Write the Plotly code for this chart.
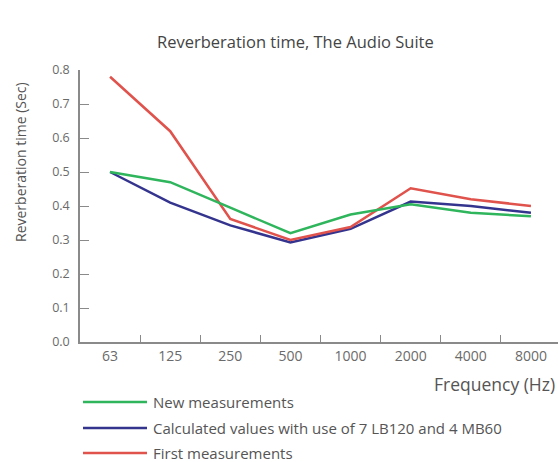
import plotly.graph_objects as go

freqs = ["63", "125", "250", "500", "1000", "2000", "4000", "8000"]
new_meas = [0.50, 0.47, 0.395, 0.32, 0.375, 0.405, 0.38, 0.37]
calc_vals = [0.50, 0.41, 0.343, 0.293, 0.333, 0.413, 0.40, 0.38]
first_meas = [0.78, 0.62, 0.362, 0.30, 0.338, 0.452, 0.42, 0.40]
series_names = ["New measurements",
                "Calculated values with use of 7 LB120 and 4 MB60",
                "First measurements"]
y_ticks = [0.0, 0.1, 0.2, 0.3, 0.4, 0.5, 0.6, 0.7, 0.8]

colors = {"new": "#2fb55c", "calc": "#34348f", "first": "#e0524c"}
FONT = "Open Sans"
GRAY = "#6a6a6a"

fig = go.Figure()
fig.add_trace(go.Scatter(x=freqs, y=calc_vals, mode="lines", name=series_names[1],
                         line=dict(color=colors["calc"], width=2.5)))
fig.add_trace(go.Scatter(x=freqs, y=first_meas, mode="lines", name=series_names[2],
                         line=dict(color=colors["first"], width=2.5)))
fig.add_trace(go.Scatter(x=freqs, y=new_meas, mode="lines", name=series_names[0],
                         line=dict(color=colors["new"], width=2.5)))

W, H = 558, 462
L, R, T, B = 80, 0, 70, 120
pw, ph = W - L - R, H - T - B

def px(x):
    return (x - L) / pw

def py(y):
    return (H - B - y) / ph

fig.update_layout(
    width=W, height=H,
    margin=dict(l=L, r=R, t=T, b=B),
    paper_bgcolor="white", plot_bgcolor="white",
    showlegend=False,
    font=dict(family=FONT, color=GRAY, size=12),
    xaxis=dict(type="category", categoryorder="array", categoryarray=freqs,
               range=[-0.5, 7.45], showgrid=False, zeroline=False,
               showline=True, linecolor="#8a8a8a", linewidth=1.5,
               ticks="inside", tickson="boundaries", ticklen=7, tickcolor="#8a8a8a",
               tickfont=dict(size=14, color=GRAY, family=FONT)),
    yaxis=dict(range=[0, 0.8], tickvals=y_ticks,
               ticktext=[f"{v:.1f}" for v in y_ticks],
               showgrid=False, zeroline=False,
               showline=True, linecolor="#8a8a8a", linewidth=1.5,
               ticks="inside", ticklen=9, tickcolor="#8a8a8a",
               ticklabelstandoff=6,
               tickfont=dict(size=12.5, color=GRAY, family=FONT)),
)

ann = []
ann.append(dict(text="Reverberation time, The Audio Suite", xref="paper", yref="paper",
                x=px(295), y=py(42), xanchor="center", yanchor="middle", showarrow=False,
                font=dict(size=16.5, color="#444444", family=FONT)))
ann.append(dict(text="Reverberation time (Sec)", xref="paper", yref="paper",
                x=px(20), y=py(162), xanchor="center", yanchor="middle", showarrow=False,
                textangle=-90, font=dict(size=14, color="#555555", family=FONT)))
ann.append(dict(text="Frequency (Hz)", xref="paper", yref="paper",
                x=px(557), y=py(384), xanchor="right", yanchor="middle", showarrow=False,
                font=dict(size=17.5, color="#555555", family=FONT)))

legend_rows = [(series_names[0], colors["new"], 402),
               (series_names[1], colors["calc"], 428),
               (series_names[2], colors["first"], 453)]
shapes = []
for name, col, yy in legend_rows:
    shapes.append(dict(type="line", xref="paper", yref="paper",
                       x0=px(83), x1=px(147), y0=py(yy), y1=py(yy),
                       line=dict(color=col, width=2.5)))
    ann.append(dict(text=name, xref="paper", yref="paper", x=px(151), y=py(yy),
                    xanchor="left", yanchor="middle", showarrow=False,
                    font=dict(size=15, color="#555555", family=FONT)))

fig.update_layout(annotations=ann, shapes=shapes)
fig.write_html("out.html",
               config={"displayModeBar": False},
               post_script="document.body.style.margin='0';"
                           "document.body.style.overflow='hidden';")
